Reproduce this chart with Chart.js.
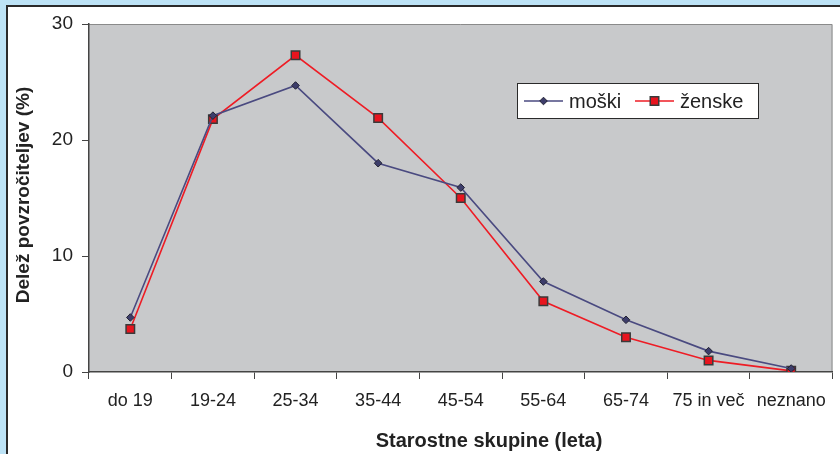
<!DOCTYPE html>
<html>
<head>
<meta charset="utf-8">
<script src="https://cdn.jsdelivr.net/npm/chart.js@4/dist/chart.umd.min.js"></script>
<style>
  html, body { margin: 0; padding: 0; background: #bde3f6; }
  #wrap { width: 840px; height: 454px; position: relative; }
</style>
</head>
<body>
<div id="wrap"><canvas id="c" width="840" height="454"></canvas></div>
<script>
// Age groups and the share of offenders (%) per group
const categories = ['do 19', '19-24', '25-34', '35-44', '45-54', '55-64', '65-74', '75 in več', 'neznano'];
const moski  = [4.7, 22.1, 24.7, 18.0, 15.9, 7.8, 4.5, 1.8, 0.3];
const zenske = [3.7, 21.8, 27.3, 21.9, 15.0, 6.1, 3.0, 1.0, 0.1];
const seriesNames = ['moški', 'ženske'];
const yTicks = [0, 10, 20, 30];
const xTitle = 'Starostne skupine (leta)';
const yTitle = 'Delež povzročiteljev (%)';

const FONT = '"Liberation Sans", Arial, sans-serif';
const INK = '#222222';

// Panel frame, grey plot area, axis titles and the boxed legend
const decor = {
  id: 'decor',
  beforeDraw(chart) {
    const { ctx, chartArea: a, width, height } = chart;
    ctx.save();
    ctx.fillStyle = '#bde3f6';
    ctx.fillRect(0, 0, width, height);
    ctx.fillStyle = '#ffffff';
    ctx.fillRect(6, 5, width, height);
    ctx.strokeStyle = '#2a2a2a';
    ctx.lineWidth = 2;
    ctx.strokeRect(7, 6, width + 10, height + 10);
    ctx.fillStyle = '#c8c9cb';
    ctx.fillRect(a.left, a.top, a.right - a.left, a.bottom - a.top);
    ctx.strokeStyle = '#8a8a8a';
    ctx.lineWidth = 1;
    ctx.beginPath();
    ctx.moveTo(a.left, a.top + 0.5);
    ctx.lineTo(a.right - 0.5, a.top + 0.5);
    ctx.lineTo(a.right - 0.5, a.bottom);
    ctx.stroke();
    ctx.restore();
  },
  afterDraw(chart) {
    const { ctx, chartArea: a } = chart;
    ctx.save();
    ctx.fillStyle = INK;
    ctx.textAlign = 'center';
    ctx.textBaseline = 'middle';
    ctx.font = 'bold 20px ' + FONT;
    ctx.fillText(xTitle, 489, 441);
    ctx.font = 'bold 19px ' + FONT;
    ctx.translate(24, 195);
    ctx.rotate(-Math.PI / 2);
    ctx.fillText(yTitle, 0, 0);
    ctx.restore();

    // legend box
    const lx = a.left + 428, ly = a.top + 59, lw = 241, lh = 35;
    ctx.save();
    ctx.fillStyle = '#ffffff';
    ctx.fillRect(lx, ly, lw, lh);
    ctx.strokeStyle = '#2a2a2a';
    ctx.lineWidth = 1;
    ctx.strokeRect(lx + 0.5, ly + 0.5, lw, lh);
    const cy = ly + lh / 2 + 0.5;
    const starts = [lx + 7, lx + 118];
    chart.data.datasets.forEach((ds, i) => {
      const x0 = starts[i];
      ctx.strokeStyle = ds.borderColor;
      ctx.lineWidth = 1.5;
      ctx.beginPath();
      ctx.moveTo(x0, cy);
      ctx.lineTo(x0 + 39, cy);
      ctx.stroke();
      ctx.fillStyle = ds.pointBackgroundColor;
      ctx.strokeStyle = ds.pointBorderColor;
      ctx.lineWidth = ds.pointBorderWidth;
      Chart.helpers.drawPoint(ctx, { pointStyle: ds.pointStyle, radius: ds.pointRadius, rotation: 0, borderWidth: ds.pointBorderWidth }, x0 + 19.5, cy);
      ctx.fillStyle = INK;
      ctx.font = '20px ' + FONT;
      ctx.textAlign = 'left';
      ctx.textBaseline = 'middle';
      ctx.fillText(ds.label, x0 + 45, cy + 1);
    });
    ctx.restore();
  }
};

new Chart(document.getElementById('c'), {
  type: 'line',
  data: {
    labels: categories,
    datasets: [
      {
        label: seriesNames[0],
        data: moski,
        borderColor: '#4a4a80',
        borderWidth: 1.6,
        pointStyle: 'rectRot',
        pointRadius: 3.8,
        pointBackgroundColor: '#3d3d6b',
        pointBorderColor: '#222233',
        pointBorderWidth: 1,
        tension: 0
      },
      {
        label: seriesNames[1],
        data: zenske,
        borderColor: '#ee1c25',
        borderWidth: 1.6,
        pointStyle: 'rect',
        pointRadius: 6,
        pointBackgroundColor: '#e8141e',
        pointBorderColor: '#3a3a3a',
        pointBorderWidth: 1.5,
        tension: 0
      }
    ]
  },
  options: {
    responsive: false,
    animation: false,
    devicePixelRatio: 1,
    layout: { padding: { top: 24, right: 3, left: 0, bottom: 0 } },
    plugins: { legend: { display: false }, tooltip: { enabled: false } },
    scales: {
      x: {
        type: 'category',
        offset: true,
        grid: { offset: true, drawOnChartArea: false, drawTicks: true, tickLength: 7, color: '#444444', lineWidth: 1 },
        border: { color: '#444444', width: 1.5 },
        ticks: { color: INK, font: { family: FONT, size: 18 }, padding: 11, maxRotation: 0, autoSkip: false },
        afterFit(s) { s.height = 82; }
      },
      y: {
        min: 0,
        max: 30,
        afterBuildTicks(s) { s.ticks = yTicks.map(v => ({ value: v })); },
        grid: { drawOnChartArea: false, drawTicks: true, tickLength: 7, color: '#444444', lineWidth: 1 },
        border: { color: '#444444', width: 1.5 },
        ticks: { color: INK, font: { family: FONT, size: 19 }, padding: 9 },
        afterFit(s) { s.width = 89; }
      }
    }
  },
  plugins: [decor]
});
</script>
</body>
</html>
